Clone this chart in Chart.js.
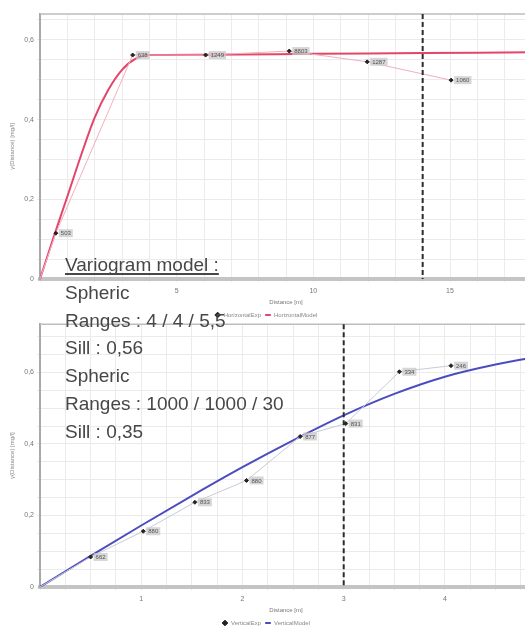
<!DOCTYPE html>
<html>
<head>
<meta charset="utf-8">
<script src="https://cdn.jsdelivr.net/npm/chart.js@4"></script>
<style>
html, body { margin: 0; padding: 0; background: #fff; width: 525px; height: 633px; overflow: hidden; }
#topBox { position: absolute; left: 0; top: 0; width: 575px; height: 328px; }
#bottomBox { position: absolute; left: 0; top: 317px; width: 575px; height: 319px; }
#note { position: absolute; left: 65px; top: 251px; font: 19px/27.8px "Liberation Sans", Arial, sans-serif; color: #474747; white-space: nowrap; }
#note u { text-decoration-thickness: 1.5px; text-underline-offset: 2px; text-decoration-skip-ink: none; }
</style>
</head>
<body>
<div id="topBox"><canvas id="horizontalChart" width="575" height="328"></canvas></div>
<div id="bottomBox"><canvas id="verticalChart" width="575" height="319"></canvas></div>
<div id="note">
<u>Variogram model :</u><br>
Spheric<br>
Ranges : 4 / 4 / 5,5<br>
Sill : 0,56<br>
Spheric<br>
Ranges : 1000 / 1000 / 30<br>
Sill : 0,35
</div>
<script>
// horizontal variogram (top)
const horizExpX = [0, 0.58, 3.39, 6.06, 9.12, 11.97, 15.04];
const horizExpY = [0, 0.115, 0.562, 0.562, 0.572, 0.545, 0.499];
const horizExpPairs = ['', '503', '638', '1249', '8803', '1287', '1060'];
const horizModelX = [0, 0.5, 1, 1.5, 2, 2.5, 3, 3.5, 4, 6, 10, 14, 18];
const horizModelY = [0, 0.105, 0.207, 0.31, 0.405, 0.475, 0.525, 0.553, 0.562, 0.563, 0.565, 0.567, 0.569];
const horizCutoff = 14;

// vertical variogram (bottom)
const vertExpX = [0, 0.50, 1.02, 1.53, 2.04, 2.57, 3.02, 3.55, 4.06];
const vertExpY = [0, 0.084, 0.156, 0.237, 0.298, 0.421, 0.457, 0.602, 0.619];
const vertExpPairs = ['', '662', '880', '833', '880', '877', '831', '334', '246'];
const vertModelX = [0, 0.5, 1, 1.5, 2, 2.5, 3, 3.5, 4, 4.5, 5];
const vertModelY = [0, 0.087, 0.172, 0.255, 0.335, 0.41, 0.48, 0.54, 0.588, 0.622, 0.648];
const vertCutoff = 3;

function toPoints(xs, ys) {
    return xs.map((x, i) => ({ x: x, y: ys[i] }));
}

function commaLabel(v) {
    if (Math.abs(v) < 1e-9) return '0';
    return v.toFixed(1).replace('.', ',');
}

const decorations = {
    id: 'decorations',
    afterDatasetsDraw(chart, args, opts) {
        const ctx = chart.ctx;
        const area = chart.chartArea;
        ctx.save();
        // top frame line
        ctx.strokeStyle = '#bdbdbd';
        ctx.lineWidth = 1.5;
        ctx.beginPath();
        ctx.moveTo(area.left, area.top);
        ctx.lineTo(area.right, area.top);
        ctx.stroke();
        // point labels (pair counts)
        const meta = chart.getDatasetMeta(0);
        ctx.font = '6px "Liberation Sans", Arial, sans-serif';
        ctx.textBaseline = 'middle';
        meta.data.forEach((pt, i) => {
            const txt = opts.labels[i];
            if (!txt) return;
            const w = ctx.measureText(txt).width;
            ctx.fillStyle = 'rgba(200,200,200,0.75)';
            ctx.fillRect(pt.x + 3, pt.y - 4, w + 4, 8);
            ctx.fillStyle = '#555';
            ctx.fillText(txt, pt.x + 5, pt.y + 0.5);
        });
        // dashed cutoff line
        const cx = chart.scales.x.getPixelForValue(opts.cutoff);
        ctx.strokeStyle = '#2b2b2b';
        ctx.lineWidth = 2;
        ctx.setLineDash([5, 3]);
        ctx.beginPath();
        ctx.moveTo(cx, area.top);
        ctx.lineTo(cx, area.bottom);
        ctx.stroke();
        ctx.restore();
    }
};

function buildChart(canvasId, cfg) {
    return new Chart(document.getElementById(canvasId).getContext('2d'), {
        type: 'scatter',
        data: {
            datasets: [{
                label: cfg.expName,
                data: toPoints(cfg.expX, cfg.expY),
                showLine: true,
                borderColor: cfg.expLine,
                borderWidth: 1,
                backgroundColor: '#222',
                pointBackgroundColor: '#222',
                pointBorderColor: '#222',
                pointStyle: 'rectRot',
                pointRadius: ctx => ctx.dataIndex === 0 ? 0 : 2,
                order: 1
            }, {
                label: cfg.modelName,
                data: toPoints(cfg.modelX, cfg.modelY),
                showLine: true,
                borderColor: cfg.modelLine,
                backgroundColor: cfg.modelLine,
                borderWidth: 2,
                pointRadius: 0,
                pointStyle: 'line',
                cubicInterpolationMode: 'monotone',
                order: 2
            }]
        },
        options: {
            responsive: false,
            animation: false,
            layout: { padding: { top: cfg.padTop, right: 43, left: 0, bottom: 0 } },
            scales: {
                x: {
                    type: 'linear',
                    min: 0,
                    max: cfg.xMax,
                    afterFit: s => { s.height = 29; },
                    ticks: {
                        stepSize: cfg.xGrid,
                        autoSkip: false,
                        maxRotation: 0,
                        includeBounds: false,
                        padding: 5,
                        color: '#777',
                        font: { size: 7, family: 'Liberation Sans' },
                        callback: v => {
                            const k = v / cfg.xLabelStep;
                            if (v > 0 && Math.abs(k - Math.round(k)) < 1e-6) return String(Math.round(v));
                            return '';
                        }
                    },
                    grid: { color: '#ebebeb', tickLength: 3 },
                    border: { color: '#c4c4c4', width: 4 },
                    title: { display: true, text: 'Distance [m]', color: '#777', font: { size: 6, family: 'Liberation Sans' }, padding: { top: 2, bottom: 2 } }
                },
                y: {
                    min: 0,
                    max: cfg.yMax,
                    afterFit: s => { s.width = 40; },
                    ticks: {
                        stepSize: 0.05,
                        autoSkip: false,
                        includeBounds: false,
                        padding: 3,
                        color: '#777',
                        font: { size: 7, family: 'Liberation Sans' },
                        callback: v => {
                            const k = v / 0.2;
                            if (Math.abs(k - Math.round(k)) < 1e-6) return commaLabel(v);
                            return '';
                        }
                    },
                    grid: { color: '#ebebeb', tickLength: 3 },
                    border: { color: '#a8a8a8', width: 2 },
                    title: { display: true, text: 'γ(Distance) [mg/l]', color: '#888', font: { size: 6, family: 'Liberation Sans' }, padding: { top: 9, bottom: 0 } }
                }
            },
            plugins: {
                legend: {
                    position: 'bottom',
                    labels: {
                        usePointStyle: true,
                        boxWidth: 6,
                        boxHeight: 4,
                        padding: 4,
                        color: '#888',
                        font: { size: 6, family: 'Liberation Sans' }
                    }
                },
                tooltip: { enabled: false },
                decorations: { labels: cfg.pairs, cutoff: cfg.cutoff }
            }
        },
        plugins: [decorations]
    });
}

let horizontalChart = buildChart('horizontalChart', {
    expName: 'HorizontalExp', modelName: 'HorizontalModel',
    expX: horizExpX, expY: horizExpY, pairs: horizExpPairs,
    modelX: horizModelX, modelY: horizModelY, cutoff: horizCutoff,
    expLine: '#f4aebd', modelLine: '#e2466a',
    xMax: 18, xGrid: 1, xLabelStep: 5, yMax: 0.665,
    padTop: 14
});

let verticalChart = buildChart('verticalChart', {
    expName: 'VerticalExp', modelName: 'VerticalModel',
    expX: vertExpX, expY: vertExpY, pairs: vertExpPairs,
    modelX: vertModelX, modelY: vertModelY, cutoff: vertCutoff,
    expLine: '#c8cad6', modelLine: '#4c4cc0',
    xMax: 4.86, xGrid: 0.25, xLabelStep: 1, yMax: 0.735,
    padTop: 5
});
</script>
</body>
</html>
